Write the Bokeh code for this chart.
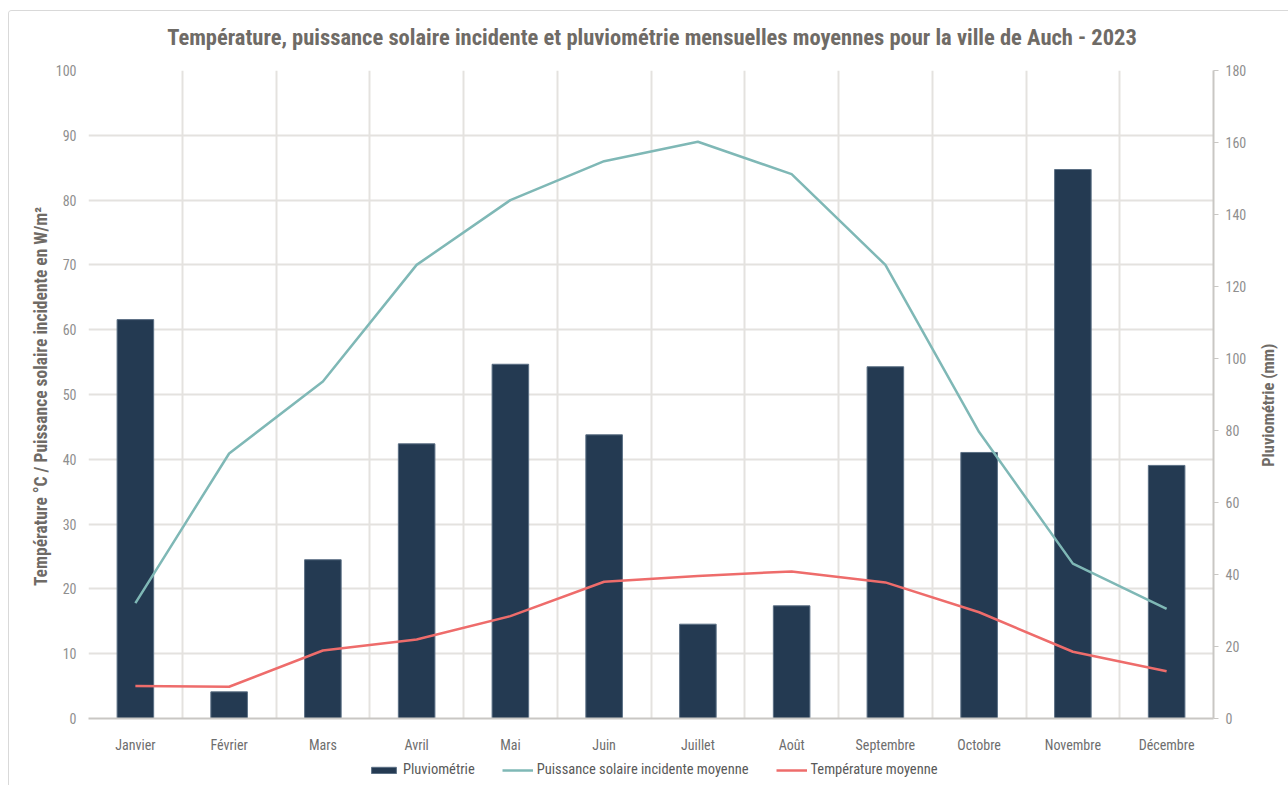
import math
from bokeh.plotting import figure
from bokeh.layouts import column, row
from bokeh.models import (Range1d, LinearAxis, FixedTicker, Label,
                          Legend, LegendItem, ColumnDataSource)
from bokeh.embed import file_html
from bokeh.resources import INLINE

months = ["Janvier", "Février", "Mars", "Avril", "Mai", "Juin", "Juillet",
          "Août", "Septembre", "Octobre", "Novembre", "Décembre"]
pluviometrie = [110.8, 7.4, 44.1, 76.3, 98.4, 78.8, 26.2, 31.3, 97.7, 73.9, 152.5, 70.3]
solaire = [17.8, 40.9, 52.0, 70.0, 80.0, 86.0, 89.0, 84.0, 70.0, 44.2, 23.9, 16.9]
temperature = [5.0, 4.9, 10.5, 12.2, 15.8, 21.1, 22.0, 22.7, 21.0, 16.4, 10.3, 7.3]

title_text = "Température, puissance solaire incidente et pluviométrie mensuelles moyennes pour la ville de Auch - 2023"
left_label = "Température °C / Puissance solaire incidente  en W/m²"
right_label = "Pluviométrie (mm)"
legend_labels = ["Pluviométrie", "Puissance solaire incidente moyenne", "Température moyenne"]
left_ticks = list(range(0, 101, 10))
right_ticks = list(range(0, 181, 20))

NARROW = "Roboto Condensed, DejaVu Sans Condensed, Liberation Sans Narrow, Arial Narrow, Liberation Sans, sans-serif"
TXT = "#6f6b66"
BAR_FILL = "#243a52"
BAR_LINE = "#5b6f84"
SOL_COL = "#7fb8b6"
TMP_COL = "#ee6c6b"

# page geometry (outer chart border at x=8, y=10)
OX, OY = 9, 11
W = 1288 - OX
TITLE_BOTTOM = 60            # page y where the title strip ends
STRIP_X = 1255               # page x where the right title strip starts
MAIN_BOTTOM = 755            # page y where the main figure ends
FRAME_L, FRAME_R, FRAME_T, FRAME_B = 88, 1213, 70, 718
TITLE_H = TITLE_BOTTOM - OY
MAIN_W, MAIN_H = STRIP_X - OX, MAIN_BOTTOM - TITLE_BOTTOM
LEG_H = 785 - MAIN_BOTTOM

xs = [i + 0.5 for i in range(len(months))]
src = ColumnDataSource(dict(x=xs, m=months, pluie=pluviometrie, sol=solaire, temp=temperature))

# title strip
tt = figure(width=W, height=TITLE_H, x_range=Range1d(0, W), y_range=Range1d(0, TITLE_H),
            x_axis_type=None, y_axis_type=None, output_backend="svg",
            toolbar_location=None, min_border=0)
tt.outline_line_color = None
tt.grid.visible = False
tt.add_layout(Label(x=(FRAME_L + FRAME_R) / 2 - OX + 1, y=TITLE_BOTTOM - 36, text=title_text,
                    text_align="center", text_baseline="middle", text_font=NARROW,
                    text_font_size="22.5px", text_font_style="bold", text_color=TXT))

p = figure(width=MAIN_W, height=MAIN_H, x_range=Range1d(0, len(months)), y_range=Range1d(0, 100),
           output_backend="svg", toolbar_location=None,
           min_border_left=FRAME_L - OX, min_border_right=STRIP_X - FRAME_R,
           min_border_top=FRAME_T - TITLE_BOTTOM, min_border_bottom=MAIN_BOTTOM - FRAME_B)
p.extra_y_ranges = {"rain": Range1d(0, 180)}

p.outline_line_color = None
p.background_fill_color = "white"
p.border_fill_color = "white"

# x axis
p.xaxis.ticker = FixedTicker(ticks=xs)
p.xaxis.major_label_overrides = {x: m for x, m in zip(xs, months)}
p.xaxis.major_tick_line_color = None
p.xaxis.minor_tick_line_color = None
p.xaxis.axis_line_color = "#c9c7c4"
p.xaxis.axis_line_width = 2
p.xaxis.major_label_text_font = NARROW
p.xaxis.major_label_text_font_size = "14px"
p.xaxis.major_label_text_color = "#6e6e6e"
p.xaxis.major_label_standoff = 12

# left axis
p.yaxis.ticker = FixedTicker(ticks=left_ticks)
p.yaxis.axis_line_color = None
p.yaxis.major_tick_line_color = None
p.yaxis.minor_tick_line_color = None
p.yaxis.major_label_text_font = NARROW
p.yaxis.major_label_text_font_size = "14px"
p.yaxis.major_label_text_color = "#8f8f8f"
p.yaxis.major_label_standoff = 6
p.yaxis.axis_label = left_label
p.yaxis.axis_label_text_font = NARROW
p.yaxis.axis_label_text_font_size = "17.5px"
p.yaxis.axis_label_text_font_style = "bold"
p.yaxis.axis_label_text_color = TXT
p.yaxis.axis_label_standoff = 2

# right axis
rax = LinearAxis(y_range_name="rain", ticker=FixedTicker(ticks=right_ticks))
rax.axis_line_color = "#c9c7c4"
rax.axis_line_width = 2
rax.major_tick_line_color = "#c9c7c4"
rax.major_tick_line_width = 1
rax.major_tick_out = 5
rax.major_tick_in = 0
rax.minor_tick_line_color = None
rax.major_label_text_font = NARROW
rax.major_label_text_font_size = "14px"
rax.major_label_text_color = "#8f8f8f"
rax.major_label_standoff = 7
p.add_layout(rax, "right")

# grids
p.xgrid.ticker = FixedTicker(ticks=list(range(len(months) + 1)))
p.xgrid.grid_line_color = "#e4e2df"
p.xgrid.grid_line_width = 2
p.ygrid.grid_line_color = "#e4e2df"
p.ygrid.grid_line_width = 2

p.vbar(x="x", top="pluie", width=0.39, source=src, y_range_name="rain",
       fill_color=BAR_FILL, line_color=BAR_LINE, line_width=1)
p.line(x="x", y="sol", source=src, line_color=SOL_COL, line_width=2.5)
p.line(x="x", y="temp", source=src, line_color=TMP_COL, line_width=2.5)

# right strip holding the secondary axis title
SW = W - MAIN_W
strip = figure(width=SW, height=MAIN_H, x_range=Range1d(0, SW),
               y_range=Range1d(0, MAIN_H), x_axis_type=None, y_axis_type=None,
               output_backend="svg", toolbar_location=None, min_border=0)
strip.outline_line_color = None
strip.grid.visible = False
strip.add_layout(Label(x=1268 - STRIP_X, y=336, text=right_label, angle=math.pi / 2,
                       text_align="center", text_baseline="middle",
                       text_font=NARROW, text_font_size="16.5px", text_font_style="bold",
                       text_color=TXT))

# legend strip
lg = figure(width=W, height=LEG_H, x_range=Range1d(0, 1), y_range=Range1d(0, 1),
            x_axis_type=None, y_axis_type=None, output_backend="svg",
            toolbar_location=None, min_border=0)
lg.outline_line_color = None
lg.grid.visible = False
offscreen = ColumnDataSource(dict(x=[-5.0], y=[-5.0]))
r_bar = lg.vbar(x="x", top="y", width=0.5, source=offscreen, fill_color=BAR_FILL, line_color=BAR_LINE)
r_sol = lg.line(x="x", y="y", source=offscreen, line_color=SOL_COL, line_width=2.5)
r_tmp = lg.line(x="x", y="y", source=offscreen, line_color=TMP_COL, line_width=2.5)
legend = Legend(items=[LegendItem(label=legend_labels[0], renderers=[r_bar]),
                       LegendItem(label=legend_labels[1], renderers=[r_sol]),
                       LegendItem(label=legend_labels[2], renderers=[r_tmp])],
                orientation="horizontal", location=(368 - OX, 7))
legend.label_text_font = NARROW
legend.label_text_font_size = "14.5px"
legend.label_text_color = "#595959"
legend.glyph_width = 31
legend.glyph_height = 8
legend.label_height = 16
legend.label_standoff = 4
legend.spacing = 27
legend.padding = 2
legend.margin = 0
legend.border_line_color = None
legend.background_fill_alpha = 0
lg.add_layout(legend)

layout = column(tt, row(p, strip), lg, margin=(OY - 1, 0, 0, OX - 1),
                styles={"border-top": "1px solid #d9d9d9", "border-left": "1px solid #d9d9d9",
                        "border-top-left-radius": "4px"})
open("out.html", "w").write(file_html(layout, INLINE))
